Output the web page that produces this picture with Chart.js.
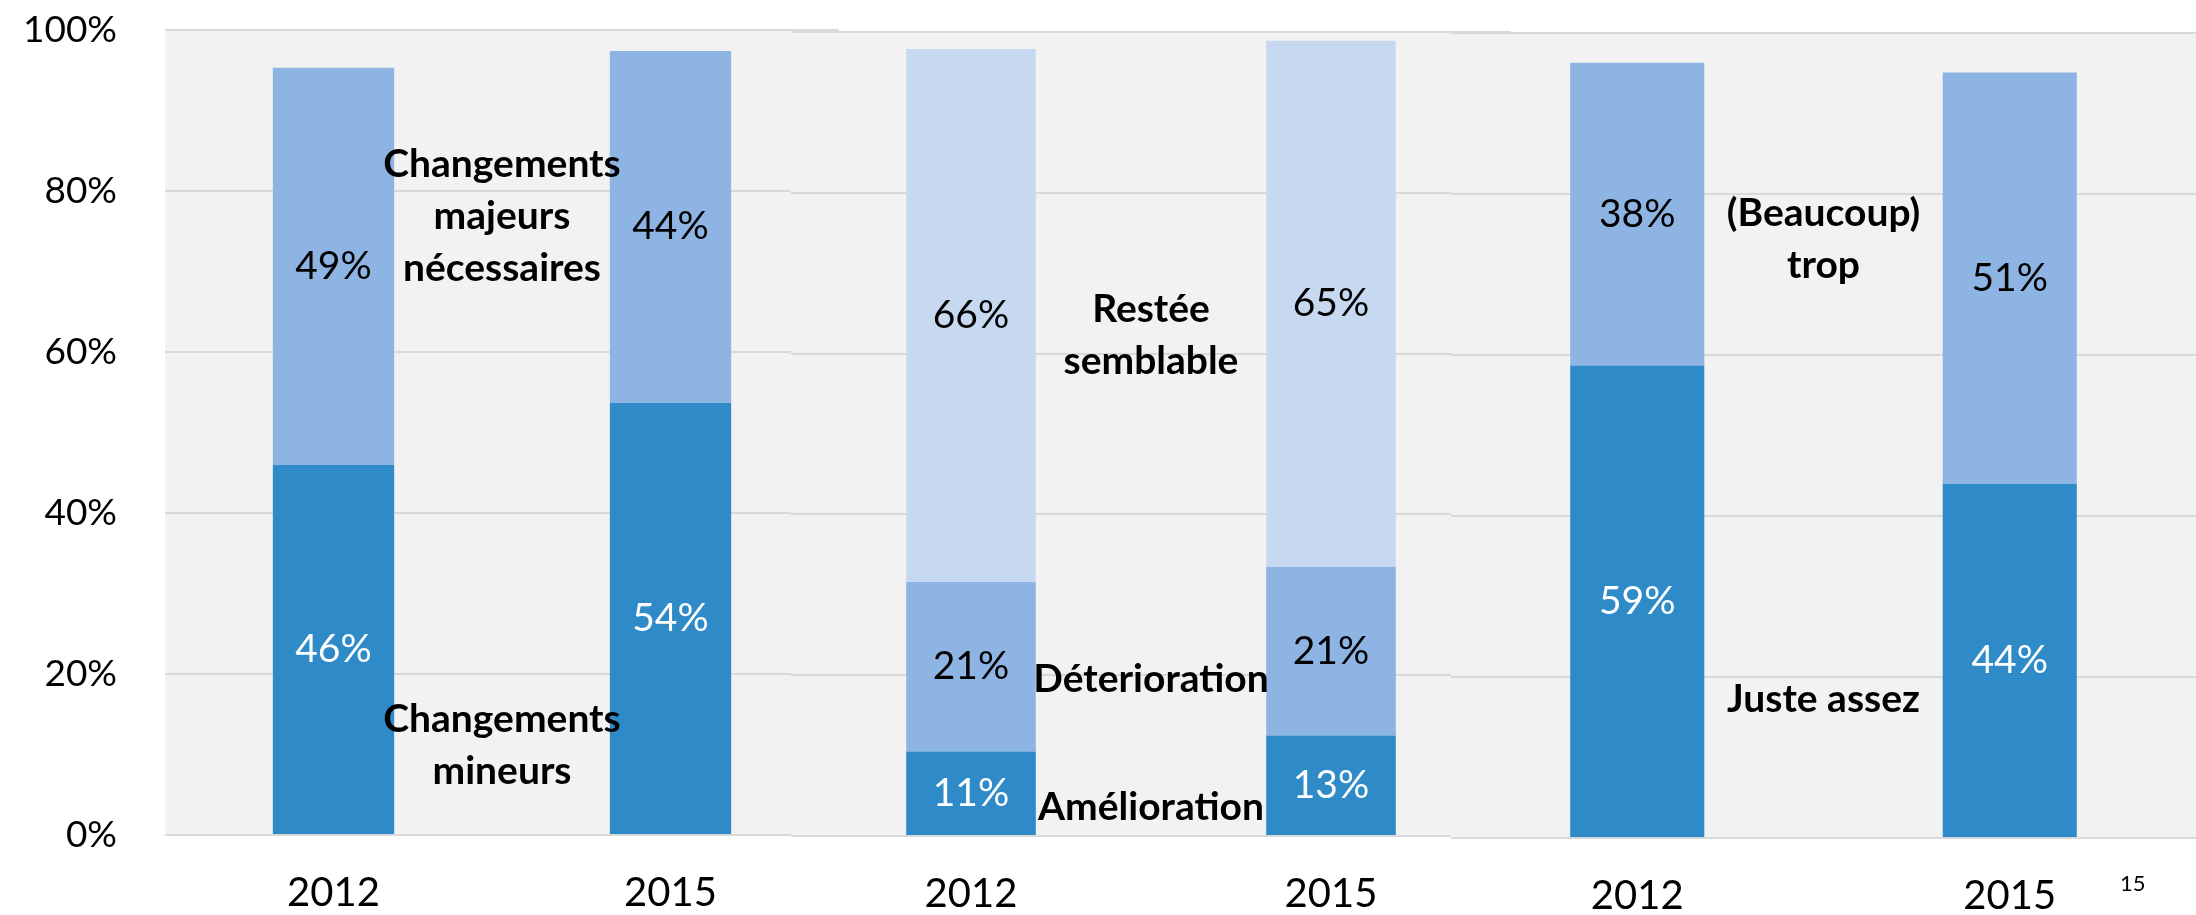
<!DOCTYPE html>
<html>
<head>
<meta charset="utf-8">
<script src="https://cdn.jsdelivr.net/npm/chart.js@4.4.1/dist/chart.umd.min.js"></script>
<style>
  body { margin: 0; background: #fff; }
  #wrap { position: relative; width: 2196px; height: 915px; }
  #wrap canvas { position: absolute; left: 0; top: 0; }
  #page { position: absolute; left: 2120px; top: 869px; font: 22px Lato; color: #000; }
</style>
</head>
<body>
<div id="wrap">
  <canvas id="c1" width="2196" height="915"></canvas>
  <canvas id="c2" width="2196" height="915"></canvas>
  <canvas id="c3" width="2196" height="915"></canvas>
  <div id="page">15</div>
</div>
<script>
// years on each small panel
let years = ['2012', '2015'];
let yTicks = [0, 20, 40, 60, 80, 100];

// panel 1 : changements
let mineurs = [46.0, 53.7];
let majeurs = [49.3, 43.7];
// panel 2 : évolution
let amelioration = [10.5, 12.5];
let deterioration = [21.1, 21.0];
let restee = [66.3, 65.4];
// panel 3 : quantité
let justeAssez = [58.7, 44.0];
let trop = [37.6, 51.1];

let dark = '#2e8bc8';
let medium = '#8eb4e3';
let light = '#c6d9f1';

let plotBg = {
    id: 'plotBg',
    beforeDraw(chart) {
        let a = chart.chartArea;
        let ctx = chart.ctx;
        ctx.save();
        ctx.fillStyle = '#f2f2f2';
        ctx.fillRect(a.left, a.top, a.right - a.left, a.bottom - a.top);
        ctx.restore();
    }
};

let valueLabels = {
    id: 'valueLabels',
    afterDatasetsDraw(chart) {
        let ctx = chart.ctx;
        ctx.save();
        ctx.font = '39px Lato';
        ctx.textAlign = 'center';
        ctx.textBaseline = 'middle';
        chart.data.datasets.forEach(function (ds, i) {
            chart.getDatasetMeta(i).data.forEach(function (bar, j) {
                ctx.fillStyle = ds.labelColor;
                ctx.fillText(Math.round(ds.data[j]) + '%', bar.x, (bar.y + bar.base) / 2);
            });
        });
        ctx.restore();
    }
};

// bold series names written between the two bars
function seriesNotes(notes) {
    return {
        id: 'seriesNotes',
        afterDraw(chart) {
            let x = chart.scales.x;
            let y = chart.scales.y;
            let ctx = chart.ctx;
            let cx = (x.getPixelForValue(0) + x.getPixelForValue(1)) / 2;
            ctx.save();
            ctx.font = 'bold 39px Lato';
            ctx.fillStyle = '#000';
            ctx.textAlign = 'center';
            ctx.textBaseline = 'alphabetic';
            notes.forEach(function (n) {
                let y0 = y.getPixelForValue(n.at);
                n.lines.forEach(function (t, k) {
                    ctx.fillText(t, cx, y0 + k * 52);
                });
            });
            ctx.restore();
        }
    };
}

function makePanel(id, series, notes, area, showY) {
    return new Chart(document.getElementById(id), {
        type: 'bar',
        data: {
            labels: years,
            datasets: series.map(function (s) {
                return {
                    label: s.name,
                    data: s.values,
                    backgroundColor: s.color,
                    labelColor: s.text,
                    categoryPercentage: 1,
                    barPercentage: 0.36
                };
            })
        },
        options: {
            responsive: false,
            animation: false,
            layout: {
                padding: {
                    left: showY ? 0 : area.left,
                    right: 2196 - area.right,
                    top: area.top,
                    bottom: 0
                }
            },
            plugins: {
                legend: { display: false },
                tooltip: { enabled: false }
            },
            scales: {
                x: {
                    stacked: true,
                    grid: { display: false },
                    border: { display: false },
                    ticks: {
                        font: { family: 'Lato', size: 40 },
                        color: '#000',
                        padding: 26
                    },
                    afterFit: function (s) { s.height = 915 - area.bottom; }
                },
                y: {
                    stacked: true,
                    min: 0,
                    max: 100,
                    afterBuildTicks: function (s) {
                        s.ticks = yTicks.map(function (v) { return { value: v }; });
                    },
                    grid: { color: '#d9d9d9', lineWidth: 2, drawTicks: false },
                    border: { display: false },
                    ticks: {
                        display: showY,
                        callback: function (v) { return v + '%'; },
                        font: { family: 'Lato', size: 37 },
                        color: '#000',
                        padding: 48
                    },
                    afterFit: function (s) {
                        s.width = showY ? area.left : 0;
                        s.paddingTop = 0;
                        s.paddingBottom = 0;
                    }
                }
            }
        },
        plugins: [plotBg, valueLabels, seriesNotes(notes)]
    });
}

makePanel('c1',
    [
        { name: 'Changements mineurs', values: mineurs, color: dark, text: '#fff' },
        { name: 'Changements majeurs nécessaires', values: majeurs, color: medium, text: '#000' }
    ],
    [
        { lines: ['Changements', 'majeurs', 'nécessaires'], at: 81.7 },
        { lines: ['Changements', 'mineurs'], at: 12.8 }
    ],
    { left: 165, right: 839, top: 30, bottom: 835 }, true);

makePanel('c2',
    [
        { name: 'Amélioration', values: amelioration, color: dark, text: '#fff' },
        { name: 'Déterioration', values: deterioration, color: medium, text: '#000' },
        { name: 'Restée semblable', values: restee, color: light, text: '#000' }
    ],
    [
        { lines: ['Restée', 'semblable'], at: 63.9 },
        { lines: ['Déterioration'], at: 17.9 },
        { lines: ['Amélioration'], at: 2.0 }
    ],
    { left: 791, right: 1511, top: 32, bottom: 836 }, false);

makePanel('c3',
    [
        { name: 'Juste assez', values: justeAssez, color: dark, text: '#fff' },
        { name: '(Beaucoup) trop', values: trop, color: medium, text: '#000' }
    ],
    [
        { lines: ['(Beaucoup)', 'trop'], at: 76.0 },
        { lines: ['Juste assez'], at: 15.6 }
    ],
    { left: 1451, right: 2196, top: 33, bottom: 838 }, false);
</script>
</body>
</html>
